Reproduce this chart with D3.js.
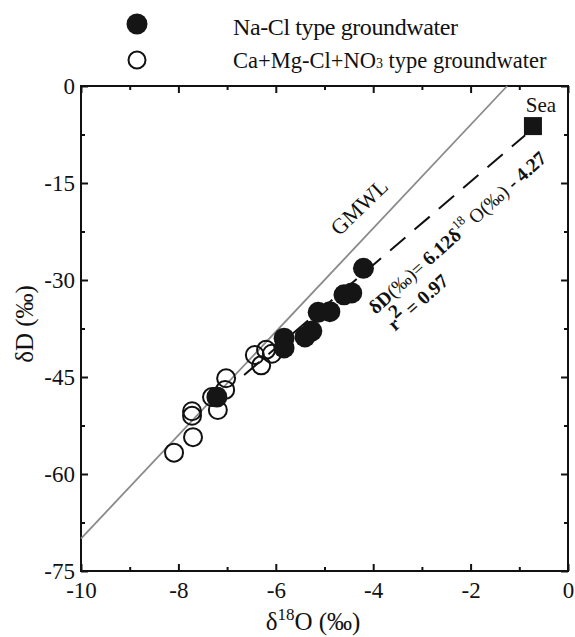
<!DOCTYPE html>
<html>
<head>
<meta charset="utf-8">
<script src="https://cdn.jsdelivr.net/npm/d3@7"></script>
<style>
  body { margin: 0; background: #fff; }
  svg text { font-family: "Liberation Serif", "Times New Roman", serif; fill: #111; }
</style>
</head>
<body>
<div id="chart"></div>
<script>
// Na-Cl type groundwater (filled circles)
const naclO = [-4.20, -4.60, -4.44, -5.13, -4.89, -5.26, -5.40, -5.83, -5.83, -7.21];
const naclD = [-28.2, -32.3, -32.0, -35.0, -34.9, -37.9, -38.8, -39.0, -40.5, -48.1];

// Ca+Mg-Cl+NO3 type groundwater (open circles)
const camgO = [-6.43, -6.30, -6.20, -6.08, -7.02, -7.04, -7.31, -7.19, -7.72, -7.72, -7.70, -8.09];
const camgD = [-41.6, -43.2, -40.8, -41.4, -45.2, -47.0, -48.1, -50.1, -50.3, -51.0, -54.3, -56.7];

// sea water
const seaO = -0.72, seaD = -6.2;

// GMWL: dD = 8 d18O + 10
const gmwlO = [-10, -1.25];
const gmwlD = [-70, 0];

// regression line as drawn
const regO = [-6.65, -0.88];
const regD = [-44.7, -7.6];

const xTicks = [-10, -8, -6, -4, -2, 0];
const xMinor = [-9, -7, -5, -3, -1];
const yTicks = [0, -15, -30, -45, -60, -75];
const yMinor = [-7.5, -22.5, -37.5, -52.5, -67.5];

const margin = {top: 86, right: 7, bottom: 66, left: 81};
const W = 575, H = 637;
const width = W - margin.left - margin.right;
const height = H - margin.top - margin.bottom;

const svg = d3.select("#chart").append("svg")
    .attr("width", W)
    .attr("height", H);

const g = svg.append("g")
    .attr("transform", `translate(${margin.left},${margin.top})`);

const x = d3.scaleLinear().domain([-10, 0]).range([0, width]);
const y = d3.scaleLinear().domain([-75, 0]).range([height, 0]);

// plain hyphen for negative numbers, like the original
const fmt = d => String(d);

// axes with inward ticks on all sides
function styleAxis(sel) {
  sel.select(".domain").remove();
  sel.selectAll(".tick line").attr("stroke", "#111").attr("stroke-width", 2);
  sel.selectAll("text").style("font-size", "23px").attr("fill", "#111");
}

g.append("g").attr("transform", `translate(0,${height})`)
  .call(d3.axisBottom(x).tickValues(xTicks).tickSize(-7).tickPadding(11).tickFormat(fmt))
  .call(styleAxis);
g.append("g").attr("transform", `translate(0,${height})`)
  .call(d3.axisBottom(x).tickValues(xMinor).tickSize(-4).tickFormat(""))
  .call(styleAxis);
g.append("g")
  .call(d3.axisTop(x).tickValues(xTicks).tickSize(-7).tickFormat(""))
  .call(styleAxis);
g.append("g")
  .call(d3.axisTop(x).tickValues(xMinor).tickSize(-4).tickFormat(""))
  .call(styleAxis);

g.append("g")
  .call(d3.axisLeft(y).tickValues(yTicks).tickSize(-7).tickPadding(6).tickFormat(fmt))
  .call(styleAxis);
g.append("g")
  .call(d3.axisLeft(y).tickValues(yMinor).tickSize(-4).tickFormat(""))
  .call(styleAxis);
g.append("g").attr("transform", `translate(${width},0)`)
  .call(d3.axisRight(y).tickValues(yTicks).tickSize(-7).tickFormat(""))
  .call(styleAxis);
g.append("g").attr("transform", `translate(${width},0)`)
  .call(d3.axisRight(y).tickValues(yMinor).tickSize(-4).tickFormat(""))
  .call(styleAxis);

// frame
g.append("rect")
  .attr("width", width).attr("height", height)
  .attr("fill", "none").attr("stroke", "#111").attr("stroke-width", 2);

const line = d3.line().x(d => x(d[0])).y(d => y(d[1]));

// GMWL
g.append("path")
  .datum(d3.zip(gmwlO, gmwlD))
  .attr("d", line)
  .attr("fill", "none")
  .attr("stroke", "#8a8a8a")
  .attr("stroke-width", 1.8);

// regression line
g.append("path")
  .datum(d3.zip(regO, regD))
  .attr("d", line)
  .attr("fill", "none")
  .attr("stroke", "#111")
  .attr("stroke-width", 2)
  .attr("stroke-dasharray", "20,12");

// open circles
g.selectAll(".camg")
  .data(d3.zip(camgO, camgD))
  .join("circle")
  .attr("class", "camg")
  .attr("cx", d => x(d[0]))
  .attr("cy", d => y(d[1]))
  .attr("r", 9)
  .attr("fill", "none")
  .attr("stroke", "#111")
  .attr("stroke-width", 2);

// filled circles
g.selectAll(".nacl")
  .data(d3.zip(naclO, naclD))
  .join("circle")
  .attr("class", "nacl")
  .attr("cx", d => x(d[0]))
  .attr("cy", d => y(d[1]))
  .attr("r", 10.5)
  .attr("fill", "#151515");

// sea
g.append("rect")
  .attr("x", x(seaO) - 9).attr("y", y(seaD) - 9)
  .attr("width", 18).attr("height", 18)
  .attr("fill", "#151515");
g.append("text")
  .attr("x", x(seaO) + 8).attr("y", y(seaD) - 14)
  .attr("text-anchor", "middle")
  .style("font-size", "21px")
  .text("Sea");

// GMWL label
g.append("text")
  .attr("transform", `translate(${x(-4.29)},${y(-18.7)}) rotate(-44)`)
  .attr("text-anchor", "middle")
  .attr("dy", "0.35em")
  .style("font-size", "22px")
  .text("GMWL");

// equation labels
const eq = g.append("text")
  .attr("transform", `translate(${x(-3.95)},${y(-35.4)}) rotate(-42)`)
  .style("font-size", "19.5px");
eq.append("tspan").style("font-weight", "bold").text("δD");
eq.append("tspan").text("(‰)= ");
eq.append("tspan").style("font-weight", "bold").text("6.12δ");
eq.append("tspan").attr("dy", -9).style("font-size", "13px").text("18");
eq.append("tspan").attr("dy", 9).text("  O(‰) ");
eq.append("tspan").style("font-weight", "bold").text("- 4.27");

const r2 = g.append("text")
  .attr("transform", `translate(${x(-3.55)},${y(-38.0)}) rotate(-42)`)
  .style("font-size", "19.5px")
  .style("font-weight", "bold");
r2.append("tspan").text("r");
r2.append("tspan").attr("dy", -9).text("2");
r2.append("tspan").attr("dy", 9).text(" = 0.97");

// axis titles
const xt = svg.append("text")
  .attr("x", 313).attr("y", 630)
  .attr("text-anchor", "middle")
  .style("font-size", "25px");
xt.append("tspan").text("δ");
xt.append("tspan").attr("dy", -10).style("font-size", "17px").text("18");
xt.append("tspan").attr("dy", 10).text("O (‰)");

svg.append("text")
  .attr("transform", "translate(33,324) rotate(-90)")
  .attr("text-anchor", "middle")
  .style("font-size", "25px")
  .text("δD (‰)");

// legend
const legend = svg.append("g");
legend.append("circle")
  .attr("cx", 137).attr("cy", 24).attr("r", 10.5)
  .attr("fill", "#151515");
legend.append("circle")
  .attr("cx", 137).attr("cy", 60).attr("r", 8.5)
  .attr("fill", "none").attr("stroke", "#111").attr("stroke-width", 2);
legend.append("text")
  .attr("x", 233).attr("y", 35)
  .attr("textLength", 225)
  .attr("lengthAdjust", "spacing")
  .style("font-size", "24px")
  .text("Na-Cl type groundwater");
const l2 = legend.append("text")
  .attr("x", 233).attr("y", 68)
  .style("font-size", "22.5px");
l2.append("tspan").text("Ca+Mg-Cl+NO");
l2.append("tspan").style("font-size", "14px").text("3");
l2.append("tspan").text(" type groundwater");
</script>
</body>
</html>
